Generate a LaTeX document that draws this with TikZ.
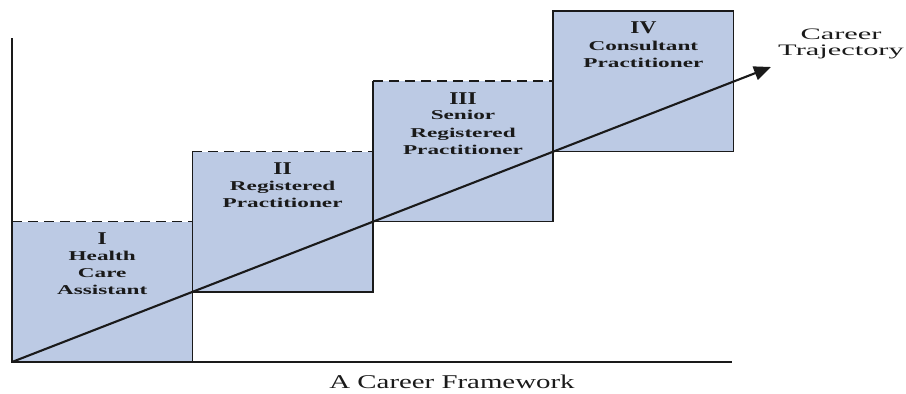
\documentclass[tikz,border=0pt]{standalone}
\usepackage{fontspec}
\setmainfont{Liberation Serif}
\usepackage{xcolor}
\usepackage{tikz}
\usetikzlibrary{arrows.meta, positioning}
\definecolor{stagebg}{RGB}{188,202,228}
\definecolor{inkc}{HTML}{1A1A1A}

\begin{document}
\begin{tikzpicture}[
  x=1pt, y=1pt,
  stage/.style={fill=stagebg, minimum width=180pt, minimum height=140pt, inner sep=0pt, anchor=south west},
  edge/.style={line width=1.6pt, inkc},
  topline/.style={edge, dash pattern=on 10pt off 6pt},
  axis/.style={line width=2pt, inkc},
  traj/.style={line width=2.1pt, inkc, -{Triangle[length=17pt,width=14pt]}},
  numlbl/.style={font=\bfseries\fontsize{18}{20}\selectfont, inner sep=0pt, inkc, xscale=1.3, transform shape},
  txtlbl/.style={font=\bfseries\fontsize{13.5}{17.2}\selectfont, align=center, inner sep=0pt, inkc, xscale=1.72, transform shape},
  titlelbl/.style={font=\fontsize{19.5}{22}\selectfont, inner sep=0pt, inkc, xscale=1.48, transform shape},
  note/.style={font=\fontsize{16}{16}\selectfont, align=center, inner sep=0pt, inkc, xscale=1.9, transform shape}
]
\useasboundingbox (0,0) rectangle (906,-394);

% four steps, each one sitting on the middle of the one before
\node[stage] (s1) at (12,-362) {};
\node[stage] (s2) at (s1.east) {};
\node[stage] (s3) at (s2.east) {};
\node[stage] (s4) at (s3.east) {};

\foreach \s in {s1,s2,s3} {
  \draw[edge] (\s.north west) -- (\s.south west) -- (\s.south east) -- (\s.north east);
  \draw[topline] (\s.north west) -- (\s.north east);
}
\draw[edge] (s4.south west) rectangle (s4.north east);

% axes
\coordinate (ytop) at (12,-38);
\coordinate (xend) at (732,-362);
\draw[axis] (ytop) -- (s1.south west) -- (xend);

% trajectory through the lower left corners
\coordinate (tip) at (771,-67);
\draw[traj] (s1.south west) -- (tip);

% stage labels
\node[numlbl, below=11pt of s1.north] (n1) {I};
\node[txtlbl, below=6pt of n1] (t1) {Health\\Care\\Assistant};
\node[numlbl, below=11pt of s2.north] (n2) {II};
\node[txtlbl, below=6pt of n2] (t2) {Registered\\Practitioner};
\node[numlbl, below=11pt of s3.north] (n3) {III};
\node[txtlbl, below=6pt of n3] (t3) {Senior\\Registered\\Practitioner};
\node[numlbl, below=11pt of s4.north] (n4) {IV};
\node[txtlbl, below=6pt of n4] (t4) {Consultant\\Practitioner};

\node[note] (trajlbl) at (841,-44) {Career\\Trajectory};
\node[titlelbl] (caption) at (452,-382) {A Career Framework};
\end{tikzpicture}
\end{document}
